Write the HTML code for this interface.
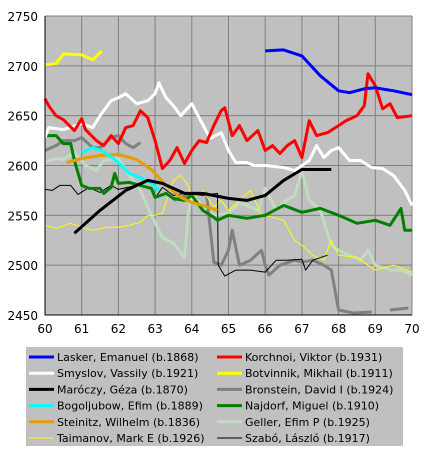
<!DOCTYPE html>
<html><head><meta charset="utf-8"><style>
body{margin:0;background:#fff;}
svg text{font-family:"DejaVu Sans","Liberation Sans",sans-serif;font-size:12px;fill:#000;}
svg #legend text{font-size:11px;}
</style></head><body>
<svg id="chart" width="426" height="452">
<rect x="45" y="16" width="367" height="299" fill="#c0c0c0"/>
<g id="grid"></g><g id="series"></g><g id="axes"></g><g id="legend"></g>
</svg>
<script>
const xTicks=[60,61,62,63,64,65,66,67,68,69,70];
const yTicks=[2450,2500,2550,2600,2650,2700,2750];
const names=["Lasker, Emanuel (b.1868)","Korchnoi, Viktor (b.1931)","Smyslov, Vassily (b.1921)","Botvinnik, Mikhail (b.1911)","Maróczy, Géza (b.1870)","Bronstein, David I (b.1924)","Bogoljubow, Efim (b.1889)","Najdorf, Miguel (b.1910)","Steinitz, Wilhelm (b.1836)","Geller, Efim P (b.1925)","Taimanov, Mark E (b.1926)","Szabó, László (b.1917)"];
const colors=["#0000ff","#ff0000","#ffffff","#ffff00","#000000","#808080","#00ffff","#008000","#e0a000","#c0dcc0","#ffff00","#000000"];
const widths=[3,3,3,3,3,3,3,3,3,3,1,1];
const lasker=[[66,2715],[66.5,2716],[67,2710],[67.5,2690],[68,2675],[68.3,2673],[68.7,2677],[69,2678],[69.5,2675],[70,2671]];
const korchnoi=[[60,2667],[60.1,2660],[60.3,2650],[60.5,2646],[60.8,2635],[61,2647],[61.1,2636],[61.4,2625],[61.6,2620],[61.8,2630],[62,2622],[62.2,2638],[62.4,2640],[62.6,2655],[62.8,2648],[63,2625],[63.2,2597],[63.4,2605],[63.6,2618],[63.8,2602],[64,2615],[64.2,2625],[64.4,2623],[64.6,2640],[64.8,2655],[64.9,2658],[65.1,2630],[65.3,2640],[65.5,2625],[65.8,2635],[66,2615],[66.2,2620],[66.4,2612],[66.6,2620],[66.8,2625],[67,2608],[67.2,2645],[67.4,2630],[67.7,2633],[68,2640],[68.2,2645],[68.5,2650],[68.7,2660],[68.8,2692],[69,2680],[69.2,2657],[69.4,2662],[69.6,2648],[70,2650]];
const smyslov=[[60,2628],[60.1,2638],[60.5,2636],[61,2642],[61.3,2638],[61.5,2650],[61.8,2665],[62,2668],[62.2,2672],[62.5,2662],[62.8,2665],[63,2672],[63.1,2683],[63.3,2668],[63.5,2660],[63.7,2650],[64,2662],[64.2,2648],[64.5,2627],[64.8,2633],[65,2615],[65.2,2603],[65.5,2603],[65.7,2600],[66,2600],[66.5,2598],[66.8,2595],[67,2600],[67.2,2605],[67.4,2620],[67.6,2608],[67.8,2615],[68,2618],[68.3,2605],[68.6,2605],[68.9,2598],[69.2,2597],[69.5,2590],[69.8,2575],[70,2560]];
const botvinnik=[[60,2701],[60.3,2702],[60.5,2712],[61,2711],[61.3,2706],[61.55,2715]];
const maroczy=[[60.8,2532],[61.5,2555],[62.2,2575],[62.8,2585],[63.2,2582],[63.8,2572],[64.3,2572],[65,2567],[65.5,2565],[66,2570],[66.5,2585],[67,2596],[67.8,2596]];
const bronstein=[[60,2615],[60.3,2620],[60.5,2625],[60.8,2625],[61,2628],[61.3,2618],[61.5,2618],[61.8,2628],[62,2630],[62.2,2622],[62.4,2618],[62.6,2623],null,[63.5,2565],[64,2572],[64.4,2572],[64.6,2503],[64.8,2500],[65,2515],[65.1,2535],[65.3,2500],[65.6,2505],[65.9,2515],[66,2500],[66.1,2490],[66.4,2500],[66.8,2505],[67,2503],[67.3,2505],[67.6,2500],[67.8,2495],[68,2455],[68.4,2452],[68.9,2453],null,[69.4,2455],[69.9,2457]];
const bogoljubow=[[61,2613],[61.3,2618],[61.6,2614],[62,2603],[62.3,2592],[62.6,2588],[62.9,2582],[63.1,2575]];
const najdorf=[[60,2630],[60.3,2630],[60.5,2622],[60.7,2622],[60.8,2605],[61,2580],[61.2,2577],[61.5,2577],[61.6,2572],[61.8,2578],[61.9,2592],[62,2582],[62.3,2583],[62.6,2580],[62.9,2577],[63,2568],[63.3,2572],[63.5,2567],[63.8,2565],[64,2570],[64.3,2555],[64.6,2548],[64.7,2545],[65,2550],[65.5,2547],[66,2550],[66.5,2560],[67,2553],[67.5,2557],[68,2550],[68.5,2542],[69,2545],[69.4,2540],[69.7,2557],[69.8,2535],[70,2535]];
const steinitz=[[60.6,2603],[61,2607],[61.5,2610],[62,2611],[62.5,2606],[62.9,2596],[63.3,2580],[63.7,2568],[64,2563],[64.3,2560],[64.7,2555]];
const geller=[[60,2604],[60.3,2607],[60.5,2606],[60.8,2613],[61.1,2600],[61.4,2595],[61.6,2605],[62,2607],[62.3,2590],[62.6,2575],[62.9,2550],[63.2,2528],[63.5,2522],[63.8,2508],[63.9,2550],[64,2570],[64.3,2560],[64.6,2550],[65,2552],[65.3,2562],[65.5,2560],[65.8,2555],[66,2577],[66.3,2555],[66.5,2563],[66.8,2570],[67,2595],[67.2,2565],[67.5,2555],[67.8,2520],[68,2515],[68.3,2510],[68.6,2505],[68.8,2515],[69,2500],[69.4,2495],[69.7,2495],[70,2490]];
const taimanov=[[60,2540],[60.3,2537],[60.7,2542],[61,2538],[61.3,2535],[61.7,2538],[62,2538],[62.3,2540],[62.6,2543],[62.8,2550],[63,2550],[63.2,2552],[63.5,2585],[63.7,2590],[63.9,2580],[64,2565],[64.3,2575],[64.6,2558],[64.8,2565],[65,2555],[65.3,2565],[65.6,2575],[65.9,2550],[66,2550],[66.5,2545],[66.8,2525],[67,2520],[67.3,2510],[67.6,2505],[67.8,2525],[68,2510],[68.5,2508],[68.8,2500],[69,2495],[69.5,2500],[70,2493]];
const szabo=[[60,2576],[60.2,2575],[60.4,2580],[60.7,2580],[60.9,2571],[61.2,2578],[61.5,2573],[61.8,2580],[62,2576],[62.5,2580],[62.9,2578],[63,2567],[63.2,2578],[63.5,2570],[63.8,2572],[64.3,2570],[64.7,2572],[64.72,2500],[64.9,2489],[65.2,2495],[65.6,2495],[66,2493],[66.3,2505],[66.6,2505],[67,2506],[67.1,2495],[67.3,2505],[67.7,2510]];
const allSeries=[lasker,korchnoi,smyslov,botvinnik,maroczy,bronstein,bogoljubow,najdorf,steinitz,geller,taimanov,szabo];
const drawOrder=[9,5,10,11,7,8,6,4,2,1,3,0];
const X0=45,X1=412,Y0=315,Y1=16;
const sx=v=>X0+(v-60)/(70-60)*(X1-X0);
const sy=v=>Y0-(v-2450)/(2750-2450)*(Y0-Y1);
const NS="http://www.w3.org/2000/svg";
function mk(tag,attrs,parent){const e=document.createElementNS(NS,tag);for(const k in attrs)e.setAttribute(k,attrs[k]);parent.appendChild(e);return e;}
const grid=document.getElementById('grid'),axes=document.getElementById('axes'),ser=document.getElementById('series'),leg=document.getElementById('legend');
xTicks.forEach(t=>{
 const l=mk('line',{x1:sx(t),x2:sx(t),y1:Y1,y2:Y0,stroke:'#808080','stroke-width':1},grid);
 
 
 const tx=mk('text',{x:sx(t),y:Y0+18,'text-anchor':'middle'},axes);tx.textContent=t;
 
 
});
yTicks.forEach(t=>{
 const l=mk('line',{x1:X0,x2:X1,y1:sy(t),y2:sy(t),stroke:'#808080','stroke-width':1},grid);
 
 
 const tx=mk('text',{x:38,y:sy(t)+5,'text-anchor':'end'},axes);tx.textContent=t;
 
 
});
const ax=mk('path',{d:`M${X0},${Y1}V${Y0}H${X1}`,stroke:'#000',fill:'none','stroke-width':1},axes);


drawOrder.forEach(i=>{
 let d='',pen=false;
 allSeries[i].forEach(p=>{if(!p){pen=false;return;}d+=(pen?'L':'M')+sx(p[0]).toFixed(1)+','+sy(p[1]).toFixed(1);pen=true;});
 const path=mk('path',{d:d,stroke:colors[i],'stroke-width':widths[i],fill:'none','stroke-linejoin':'round'},ser);
 
 
});
const box=mk('rect',{x:26,y:347,width:377,height:99,fill:'#c0c0c0'},leg);


names.forEach((n,i)=>{
 const col=i%2,row=Math.floor(i/2);
 const lx=col?217:29,tx=col?245:57,yy=357+row*16.2;
 const ln=mk('line',{x1:lx,x2:lx+25,y1:yy,y2:yy,stroke:colors[i],'stroke-width':widths[i]},leg);
 
 
 const t=mk('text',{x:tx,y:yy+4},leg);t.textContent=n;
 
 
});
</script>
</body></html>
